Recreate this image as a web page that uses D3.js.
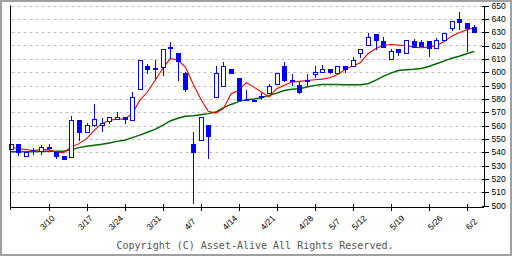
<!DOCTYPE html>
<meta charset="utf-8">
<style>
body { margin: 0; background: #fff; }
.grid line { stroke: #c0c0c0; stroke-dasharray: 3,3; }
.axis path, .axis line { stroke: #000; shape-rendering: crispEdges; }
.axis text, .dlabel { font-family: "Liberation Sans", Arial, sans-serif; font-size: 8.5px; fill: #000; }
</style>
<body>
<script src="https://d3js.org/d3.v7.min.js"></script>
<script>

// daily candles
var opens  = [542.5,546.5,537.5,541.5,541,544,540,537.5,537,564.5,555,560.5,560.5,563.5,565,566.5,564.5,587,605,602,603.5,619,614.5,599,546.5,549.5,560.5,581.5,590,602.5,596,579.5,579.5,582,584.5,591.5,605,594,590.5,593.5,599,600,602.5,599.5,605,605,614,620.5,629,623.5,609.5,617.5,614.5,623.5,623,623.5,618.5,624.5,632.5,640,637,634];
var highs  = [546.5,546.5,540.5,543.5,545.5,546,540,537.5,567,564.5,562,576,566,566.5,570.5,566.5,585,609,606.5,609.5,617,623,614.5,600.5,555,566.5,560.5,605,608,602.5,596,587,579.5,584.5,591,599.5,608,598.5,592.5,599,605,605.5,602.5,605,605,611.5,617,629.5,629,626.5,617.5,617.5,624.5,625,624.5,623.5,626,629.5,638,645,637,635.5];
var lows   = [542.5,537,536.5,538,538,542.5,535,534.5,536,548.5,555,559,555,561.5,564,561,564.5,587,598.5,594.5,597,610,593.5,585,501.5,549.5,535,581.5,590,599,578.5,578.5,578,579,584.5,591.5,592.5,590,583.5,590,595.5,599.5,598.5,599.5,599.5,605,611,620.5,617,618.5,609.5,612.5,614.5,618.5,619,611.5,618.5,624.5,631,632,615,629.5];
var closes = [546.5,539.5,540.5,541,544,542.5,536.5,534.5,564.5,554.5,560.5,565,562,566.5,566.5,564.5,581.5,609,602,603,617,617.5,608,586.5,539.5,566.5,551.5,599.5,605,599,578.5,578.5,578,582.5,590,599.5,594,594.5,584.5,594,600.5,602.5,599.5,605,602,609.5,617,626.5,623.5,618.5,615.5,614.5,624.5,618.5,619,617.5,624.5,629.5,638,637,632.5,629.5];

// moving averages (red short, green long)
var maShort = [544,542.6,542,541.2,541.8,541.9,540,539.7,543.9,546.4,550.1,556.4,561.4,563.9,564.8,564.8,568.9,578.8,585.1,593.8,602.6,610.1,609.3,603.8,591.3,580.1,570.6,569.3,572.6,583.8,586.3,592.1,588.8,585.1,581.3,587.6,590.1,592.6,593.1,593.8,594.3,594.8,595.8,598.3,602.1,604.6,607.1,613.8,617.6,620,620.8,620.3,620,618.8,618.3,618.8,620,622.8,627,629.5,631.8,633.3];
var maLong  = [540.3,540.3,540.4,540.5,540.5,540.6,540.6,540.7,541.9,543.4,544.4,545.1,545.9,546.9,548.1,548.9,550.9,552.8,554.9,557.1,560.1,563.4,565.4,566.9,567.4,568.1,568.9,570.1,573.4,575.8,577.9,579.4,579.8,580.8,582.6,584.3,586.3,587.1,587.6,588.8,590.1,590.8,590.8,590.8,590.6,590.6,590.6,591.3,593.8,596.8,599.3,601.3,601.8,602.1,602.8,604.3,606.3,608.3,610.5,612,613.8,615.6];

// tick marks every 5 sessions; date labels sit under the candle of that date
var tickIdx    = [5,10,15,20,25,30,35,40,45,50,55,60];
var labelIdx   = [5,10,14,19,24,29,34,39,43,46,51,56,61];
var tickLabels = ["3/10","3/17","3/24","3/31","4/7","4/14","4/21","4/28","5/7","5/12","5/19","5/26","6/2"];
var yTicks = d3.range(500, 651, 10);
var gridTicks = d3.range(510, 651, 10);

var width = 512, height = 256;

var x = d3.scaleLinear().domain([0, 62.2]).range([10.5, 483.5]);
var y = d3.scaleLinear().domain([500, 650]).range([205.5, 5.5]);

var svg = d3.select("body").append("svg")
    .attr("width", width)
    .attr("height", height);

// frame
svg.append("rect")
    .attr("x", 1).attr("y", 1)
    .attr("width", width - 2).attr("height", height - 2)
    .attr("fill", "#fff")
    .attr("stroke", "#a0a0a0")
    .attr("stroke-width", 2);

// dashed grid
svg.append("g").attr("class", "grid")
  .selectAll("line")
    .data(gridTicks)
  .enter().append("line")
    .attr("x1", x(0) + 1).attr("x2", x.range()[1] - 1)
    .attr("y1", function(d) { return Math.round(y(d)) + 0.5; })
    .attr("y2", function(d) { return Math.round(y(d)) + 0.5; });

// moving average lines
var line = function(arr) {
  return d3.line()
    .x(function(d, i) { return x(i); })
    .y(function(d) { return y(d); })(arr);
};

svg.append("path")
    .attr("d", line(maLong))
    .attr("fill", "none")
    .attr("stroke", "#006600")
    .attr("stroke-width", 1.5);

svg.append("path")
    .attr("d", line(maShort))
    .attr("fill", "none")
    .attr("stroke", "#ff0000")
    .attr("stroke-width", 1.1);

// candles
var candles = svg.append("g")
  .selectAll("g")
    .data(opens.map(function(o, i) { return {i: i, o: o, h: highs[i], l: lows[i], c: closes[i]}; }))
  .enter().append("g")
    .attr("shape-rendering", "crispEdges");

candles.append("line")
    .attr("x1", function(d) { return Math.round(x(d.i)) + 0.5; })
    .attr("x2", function(d) { return Math.round(x(d.i)) + 0.5; })
    .attr("y1", function(d) { return y(d.h); })
    .attr("y2", function(d) { return y(d.l); })
    .attr("stroke", "#0000ff");

candles.append("rect")
    .attr("x", function(d) { var k = Math.round(x(d.i)); return d.c >= d.o ? k - 1.5 : k - 2; })
    .attr("width", function(d) { return d.c >= d.o ? 4 : 5; })
    .attr("y", function(d) { return Math.round(y(Math.max(d.o, d.c))) + (d.c >= d.o ? 0.5 : 0); })
    .attr("height", function(d) { return Math.max(1, Math.round(y(Math.min(d.o, d.c)) - y(Math.max(d.o, d.c)))); })
    .attr("fill", function(d) { return d.c >= d.o ? "#fff" : "#0000ff"; })
    .attr("stroke", function(d) { return d.c >= d.o ? "#0000ff" : "none"; });

// left border line of plot
svg.append("line")
    .attr("x1", x(0)).attr("x2", x(0))
    .attr("y1", y(650)).attr("y2", y(500) + 4.5)
    .attr("stroke", "#000");

// right price axis
var yAxis = svg.append("g")
    .attr("class", "axis")
    .attr("transform", "translate(" + x.range()[1] + ",0)")
    .call(d3.axisRight(y).tickValues(yTicks).tickSizeInner(5).tickSizeOuter(0).tickPadding(3).tickFormat(d3.format("d")));
yAxis.selectAll(".tick line").attr("x1", -2);

// bottom date axis (ticks only)
var xAxis = svg.append("g")
    .attr("class", "axis")
    .attr("transform", "translate(0," + (y(500) + 1) + ")")
    .call(d3.axisBottom(x).tickValues(tickIdx).tickSizeInner(4).tickSizeOuter(0).tickFormat(""));
xAxis.selectAll(".tick line").attr("y1", -3);

// date labels, rotated
svg.append("g")
  .selectAll("text")
    .data(tickLabels)
  .enter().append("text")
    .attr("class", "dlabel")
    .attr("text-anchor", "start")
    .attr("transform", function(d, i) {
      return "translate(" + (x(labelIdx[i]) - 5) + "," + (y(500) + 25) + ") rotate(-45)";
    })
    .text(function(d) { return d; });

// copyright
svg.append("text")
    .attr("x", 255)
    .attr("y", 249)
    .attr("text-anchor", "middle")
    .style("font-family", "'DejaVu Sans Mono', monospace")
    .style("font-size", "10px")
    .style("fill", "#555")
    .text("Copyright (C) Asset-Alive All Rights Reserved.");

</script>
</body>
